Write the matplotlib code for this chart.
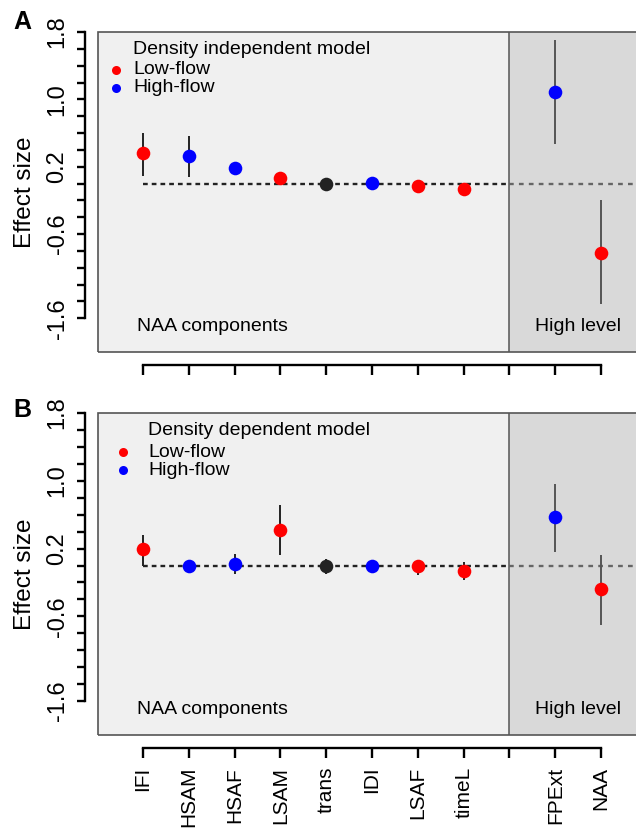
import numpy as np
import matplotlib.pyplot as plt
from matplotlib.patches import Rectangle

plt.rcParams['font.family'] = ['Liberation Sans', 'DejaVu Sans']

# categories (position 9 is an empty slot between the two groups)
components = ['IFI', 'HSAM', 'HSAF', 'LSAM', 'trans', 'IDI', 'LSAF', 'timeL', 'FPExt', 'NAA']
slots = [1, 2, 3, 4, 5, 6, 7, 8, 10, 11]
flow = ['low', 'high', 'high', 'low', 'none', 'high', 'low', 'low', 'high', 'low']

# density independent model
ind_est = [0.36, 0.33, 0.19, 0.07, 0.00, 0.01, -0.03, -0.06, 1.09, -0.82]
ind_lo = [0.09, 0.08, 0.15, 0.03, -0.03, -0.02, -0.06, -0.09, 0.47, -1.43]
ind_hi = [0.60, 0.56, 0.23, 0.11, 0.03, 0.04, 0.00, -0.03, 1.70, -0.19]

# density dependent model
dep_est = [0.19, 0.00, 0.02, 0.42, -0.01, 0.00, -0.01, -0.07, 0.57, -0.28]
dep_lo = [0.00, -0.03, -0.10, 0.12, -0.10, -0.03, -0.11, -0.17, 0.16, -0.70]
dep_hi = [0.36, 0.03, 0.14, 0.72, 0.08, 0.03, 0.06, 0.04, 0.96, 0.13]

y_labels = ['1.8', '1.0', '0.2', '-0.6', '-1.6']

colors = {'low': '#ff0000', 'high': '#0000ff', 'none': '#222222'}

W, H = 636, 830
fig = plt.figure(figsize=(W / 100, H / 100), dpi=100)

X0, X1 = 0.0175, 11.85
SPLIT = 9


def panel(rect, est, lo, hi, title, letter, letter_y, leg, show_xlabels):
    left, top, right, bottom = rect
    ax = fig.add_axes([left / W, 1 - bottom / H, (right - left) / W, (bottom - top) / H])
    ax.set_xlim(X0, X1)
    ax.set_ylim(-2.0, 1.8)
    ax.set_facecolor('none')
    ax.axvspan(X0, SPLIT, color='#f0f0f0', zorder=0)
    ax.axvspan(SPLIT, X1, color='#d9d9d9', zorder=0)
    ax.add_patch(Rectangle((0, 0), 1, 1, transform=ax.transAxes, fill=False,
                           ec='#555555', lw=1.2, clip_on=False, zorder=1))
    ax.axvline(SPLIT, color='#555555', lw=1.1, zorder=1)

    ax.plot([1, SPLIT], [0, 0], color='#222222', ls=(0, (2, 1.7)), lw=1.7, zorder=2)
    ax.plot([SPLIT, X1], [0, 0], color='#666666', ls=(0, (2, 2.2)), lw=1.7, zorder=2)

    for x, e, l, h, f in zip(slots, est, lo, hi, flow):
        ec = '#222222' if x < SPLIT else '#555555'
        ax.vlines(x, l, h, color=ec, lw=1.4, zorder=3)
        ax.plot(x, e, 'o', color=colors[f], ms=9.8, mec='none', zorder=4)

    # axes styled like R: detached axis lines
    for s in ['top', 'right']:
        ax.spines[s].set_visible(False)
    ax.spines['left'].set_position(('outward', 9.4))
    ax.spines['left'].set_bounds(-1.6, 1.8)
    ax.spines['bottom'].set_position(('outward', 9.4))
    ax.spines['bottom'].set_bounds(1, 11)
    for s in ['left', 'bottom']:
        ax.spines[s].set_linewidth(1.7)

    yt = np.round(np.arange(-1.6, 1.81, 0.2), 1)
    ax.set_yticks(yt)
    ax.set_yticklabels([f'{t:.1f}' if f'{t:.1f}' in y_labels else '' for t in yt],
                       rotation=90, va='center', fontsize=17)
    ax.set_xticks(list(range(1, 12)))
    if show_xlabels:
        labs = components[:8] + [''] + components[8:]
        ax.set_xticklabels(labs, rotation=90, va='top', ha='center', fontsize=15)
    else:
        ax.set_xticklabels([])
    ax.tick_params(axis='y', length=5.8, width=1.7, pad=6)
    ax.tick_params(axis='x', length=7, width=1.7, pad=6.5)

    ax.text((137 - left) / (right - left), 0.08, 'NAA components', transform=ax.transAxes,
            fontsize=14, va='center', ha='left')
    ax.text(10.5, -2.0 + 0.08 * 3.8, 'High level', fontsize=14, va='center', ha='center')

    tx, mx, ys = leg
    fx = lambda p: (p - left) / (right - left)
    fy = lambda p: (bottom - p) / (bottom - top)
    ax.text(fx(tx), fy(ys[0]), title, transform=ax.transAxes, fontsize=14, va='center')
    for name, key, yy in zip(['Low-flow', 'High-flow'], ['low', 'high'], ys[1:]):
        ax.plot(fx(mx), fy(yy), 'o', color=colors[key], ms=6.5, mec='none',
                transform=ax.transAxes, clip_on=False)
        ax.text(fx(tx), fy(yy), name, transform=ax.transAxes, fontsize=14, va='center')

    fig.text(22 / W, 1 - letter_y / H, letter, fontsize=18, fontweight='bold',
             ha='center', va='center')
    fig.text(25 / W, 1 - (top + bottom) / 2 / H, 'Effect size', rotation=90,
             fontsize=17.5, ha='center', va='center')
    return ax


panel((98, 32, 640, 352), ind_est, ind_lo, ind_hi, 'Density independent model',
      'A', 22, (133, 116, (49, 70, 88)), False)
panel((98, 413, 640, 735), dep_est, dep_lo, dep_hi, 'Density dependent model',
      'B', 410, (148, 123, (430, 452, 470)), True)

fig.savefig('out.png', dpi=100)
